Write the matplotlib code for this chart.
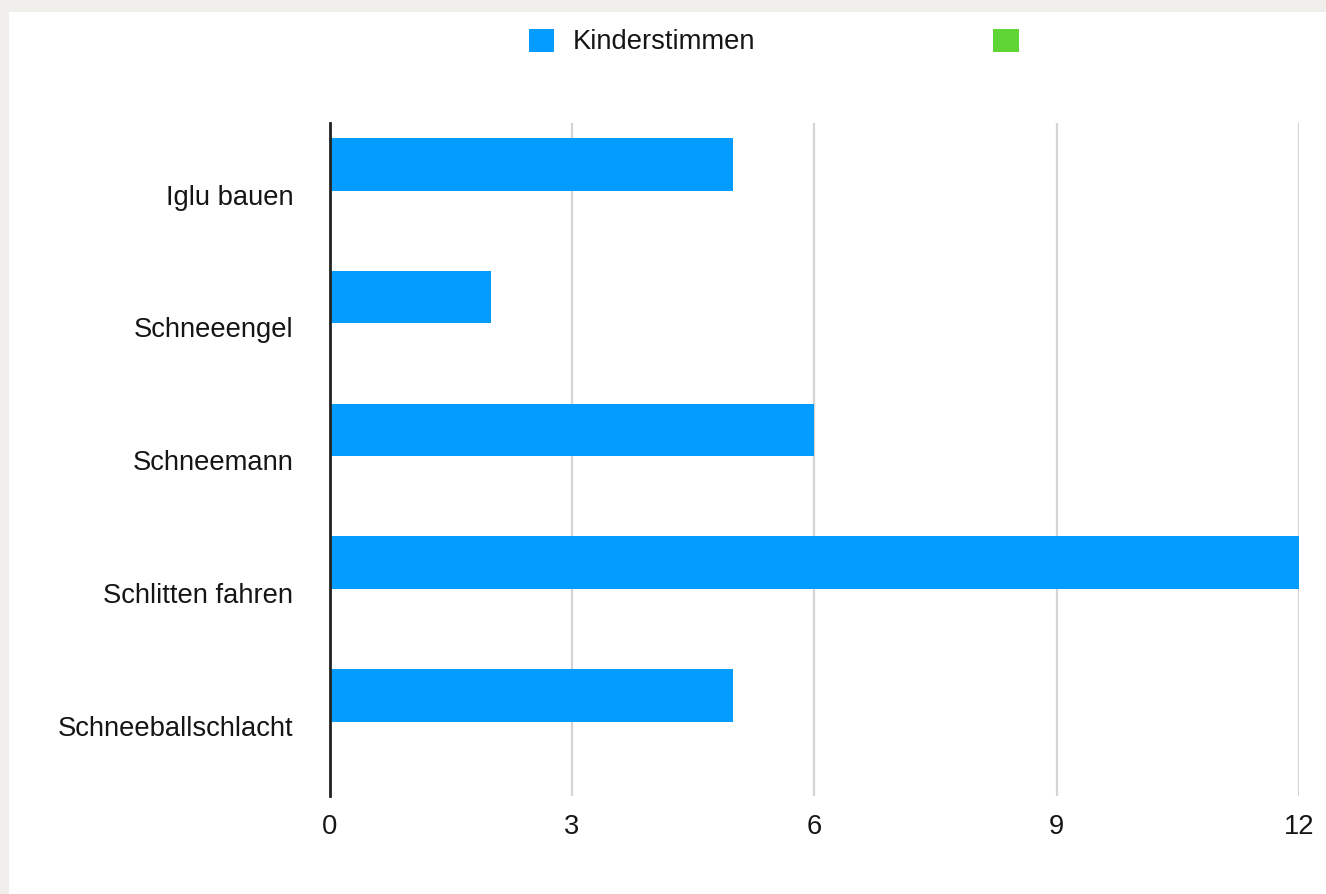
import matplotlib
matplotlib.use("Agg")
import matplotlib.pyplot as plt
from matplotlib.patches import Rectangle
from matplotlib.transforms import ScaledTranslation
import numpy as np

categories = ["Iglu bauen", "Schneeengel", "Schneemann", "Schlitten fahren", "Schneeballschlacht"]
kinderstimmen = [5, 2, 6, 12, 5]
second_series = [0, 0, 0, 0, 0]
series_labels = ["Kinderstimmen", ""]
x_ticks = [0, 3, 6, 9, 12]

BLUE = "#059CFF"
GREEN = "#5ED435"
TEXT = "#151515"
FS = 19.7

plt.rcParams['font.family'] = ['Liberation Sans', 'DejaVu Sans']

W, H = 1326, 894
fig = plt.figure(figsize=(W / 100, H / 100), dpi=100)
fig.patch.set_facecolor("#F0EFEC")
fig.patches.append(Rectangle((9 / W, 0), 1 - 9 / W, 1 - 12 / H, transform=fig.transFigure,
                             facecolor="white", edgecolor="none", zorder=-10))

ax_left, ax_right = 329.5 / W, 1299 / W
ax_top, ax_bottom = 1 - 123 / H, 1 - 796 / H
ax = fig.add_axes([ax_left, ax_bottom, ax_right - ax_left, ax_top - ax_bottom])
ax.set_facecolor("none")
ax.set_zorder(2)

y = np.arange(len(categories))
h = 0.395
b1 = ax.barh(y - h / 2, kinderstimmen, height=h, color=BLUE, label=series_labels[0], zorder=3)
b2 = ax.barh(y + h / 2, second_series, height=h, color=GREEN, label=series_labels[1], zorder=3)

ax.set_xlim(0, 12)
ax.set_ylim(4.56, -0.51)

ax.set_xticks(x_ticks)
ax.set_xticklabels([str(t) for t in x_ticks])
ax.set_yticks(y)
ax.set_yticklabels(categories)
ax.tick_params(axis='both', length=0, labelsize=FS, colors=TEXT)
ax.tick_params(axis='x', pad=13)
ax.tick_params(axis='y', pad=26)

shift = ScaledTranslation(0, -4 / 100, fig.dpi_scale_trans)
for lbl in ax.get_yticklabels():
    lbl.set_transform(lbl.get_transform() + shift)

for s in ["top", "right", "bottom"]:
    ax.spines[s].set_visible(False)
ax.spines["left"].set_color("#222222")
ax.spines["left"].set_linewidth(2)
ax.spines["left"].set_zorder(5)

ax.grid(axis='x', color="#D4D4D4", linewidth=1.6, zorder=1)
ax.grid(axis='y', visible=False)
ax.set_axisbelow(True)

leg = fig.legend(handles=[b1, b2], labels=series_labels, loc="center left",
                 bbox_to_anchor=(528.5 / W, 1 - 42 / H), bbox_transform=fig.transFigure,
                 ncol=2, frameon=False, fontsize=FS, handlelength=0.92, handleheight=0.92,
                 handletextpad=0.7, columnspacing=8.7, borderpad=0, borderaxespad=0)
for t in leg.get_texts():
    t.set_color(TEXT)

fig.savefig("out.png", dpi=100, facecolor=fig.get_facecolor())
